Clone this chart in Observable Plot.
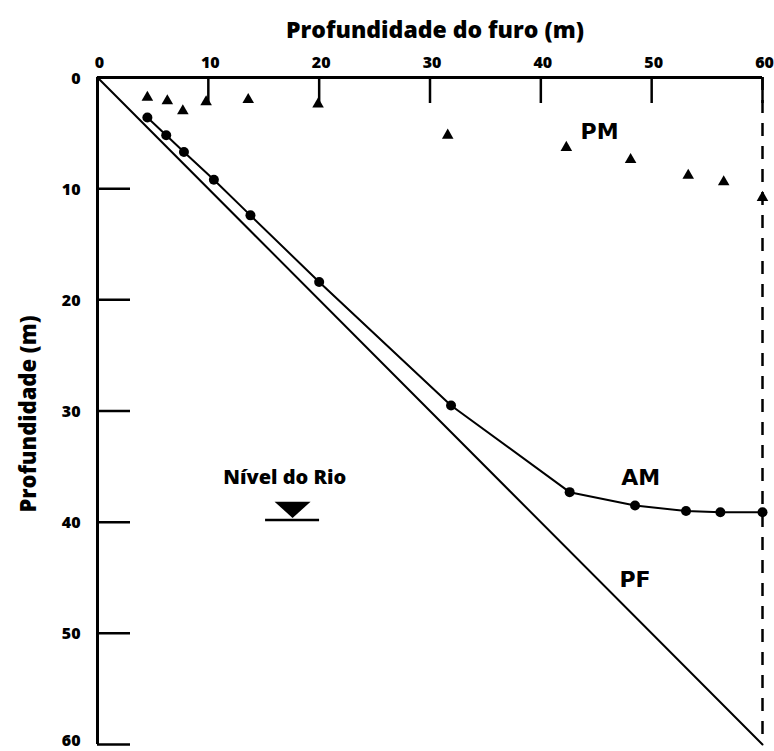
<!DOCTYPE html>
<html>
<head>
<meta charset="utf-8">
<script src="https://cdn.jsdelivr.net/npm/d3@7"></script>
<script src="https://cdn.jsdelivr.net/npm/@observablehq/plot@0.6"></script>
<style>
  html, body { margin: 0; padding: 0; background: #fff; }
</style>
</head>
<body>
<div id="chart"></div>
<script>
// Tick values
const xTicks = [0, 10, 20, 30, 40, 50, 60];
const yTicks = [0, 10, 20, 30, 40, 50];
const yTicksBottom = [60];
const xInnerTicks = [10, 20, 30, 40, 50, 60];
const yInnerTicks = [10, 20, 30, 40, 50, 60];

// PF: hole depth line (borehole profile)
const pfX = [0, 60];
const pfY = [0, 60];

// AM series (circles)
const amX = [4.5, 6.2, 7.8, 10.5, 13.8, 20.0, 31.9, 42.6, 48.5, 53.1, 56.2, 60.0];
const amY = [3.6, 5.2, 6.7, 9.2, 12.4, 18.4, 29.5, 37.3, 38.5, 39.0, 39.1, 39.1];

// PM series (triangles)
const pmX = [4.5, 6.3, 7.7, 9.8, 13.6, 19.9, 31.6, 42.3, 48.1, 53.3, 56.5, 60.0];
const pmY = [1.8, 2.1, 3.0, 2.2, 2.0, 2.4, 5.2, 6.3, 7.4, 8.8, 9.4, 10.8];

// River level marker
const riverX = [17.6];
const riverY = [39.8];

// Labels
const labelText = ["PM", "AM", "PF"];
const labelX = [45.3, 49.0, 48.5];
const labelY = [4.9, 36.0, 45.2];
const riverLabel = ["Nível do Rio"];
const riverLabelX = [16.9];
const riverLabelY = [36.0];

const pf = pfX.map((x, i) => ({x, y: pfY[i]}));
const am = amX.map((x, i) => ({x, y: amY[i]}));
const pm = pmX.map((x, i) => ({x, y: pmY[i]}));
const river = riverX.map((x, i) => ({x, y: riverY[i]}));
const labels = labelText.map((t, i) => ({t, x: labelX[i], y: labelY[i]}));
const riverLabels = riverLabel.map((t, i) => ({t, x: riverLabelX[i], y: riverLabelY[i]}));

// flat downward triangle symbol, tip at the anchor point
const downTriangle = {
  draw(context, size) {
    const r = Math.sqrt(size / Math.PI);
    context.moveTo(-r, -0.9 * r);
    context.lineTo(r, -0.9 * r);
    context.lineTo(0, 0);
    context.closePath();
  }
};

const chart = Plot.plot({
  width: 774,
  height: 751,
  marginLeft: 97,
  marginRight: 12,
  marginTop: 77,
  marginBottom: 7,
  style: {fontFamily: "'Open Sans', Lato, sans-serif", background: "#fff", overflow: "visible"},
  x: {domain: [0, 60]},
  y: {domain: [0, 60], reverse: true},
  marks: [
    Plot.axisX({anchor: "top", ticks: xTicks, tickSize: 0, tickPadding: 10, fontSize: 16, fontWeight: 800, label: null, tickFormat: d => d, dx: 2}),
    Plot.axisY({anchor: "left", ticks: yTicks, tickSize: 0, tickPadding: 17, fontSize: 16, fontWeight: 800, label: null, tickFormat: d => d, dy: 1}),
    Plot.axisY({anchor: "left", ticks: yTicksBottom, tickSize: 0, tickPadding: 17, fontSize: 16, fontWeight: 800, label: null, tickFormat: d => d, dy: -4}),
    Plot.text(["Profundidade do furo (m)"], {frameAnchor: "top", dy: -56, dx: 5, fontSize: 23, fontWeight: 800, fill: "black"}),
    Plot.text(["Profundidade (m)"], {frameAnchor: "left", textAnchor: "middle", dx: -69, dy: 3, rotate: -90, fontSize: 22, fontWeight: 800, fill: "black"}),
    Plot.ruleY([0], {stroke: "black", strokeWidth: 3}),
    Plot.ruleX([0], {stroke: "black", strokeWidth: 3}),
    Plot.ruleX([60], {stroke: "black", strokeWidth: 2.5, strokeDasharray: "13,10"}),
    Plot.ruleX(xInnerTicks, {stroke: "black", strokeWidth: 2.5, insetBottom: 641}),
    Plot.ruleY(yInnerTicks, {stroke: "black", strokeWidth: 2.5, insetRight: 632}),
    Plot.line(pf, {x: "x", y: "y", stroke: "black", strokeWidth: 2}),
    Plot.line(am, {x: "x", y: "y", stroke: "black", strokeWidth: 2}),
    Plot.dot(am, {x: "x", y: "y", r: 5, fill: "black"}),
    Plot.dot(pm, {x: "x", y: "y", r: 4.3, symbol: "triangle", fill: "black"}),
    Plot.ruleY(river, {x1: "x", x2: "x", y: "y", insetLeft: -27, insetRight: -27, stroke: "black", strokeWidth: 2.5}),
    Plot.dot(river, {x: "x", y: "y", r: 18, symbol: downTriangle, fill: "black", dy: -2}),
    Plot.text(labels, {x: "x", y: "y", text: "t", fontSize: 22, fontWeight: "bold", fontFamily: "'DejaVu Sans', sans-serif", fill: "black"}),
    Plot.text(riverLabels, {x: "x", y: "y", text: "t", fontSize: 20, fontWeight: 800, fill: "black"})
  ]
});

document.getElementById("chart").appendChild(chart);
</script>
</body>
</html>
